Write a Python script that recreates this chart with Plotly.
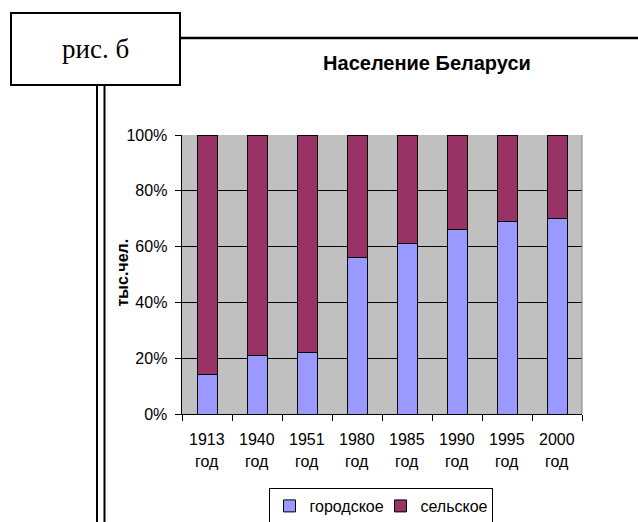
import plotly.graph_objects as go

# ---- data ----
years = ["1913", "1940", "1951", "1980", "1985", "1990", "1995", "2000"]
year_suffix = "год"
urban = [14, 21, 22, 56, 61, 66, 69, 70]
rural = [86, 79, 78, 44, 39, 34, 31, 30]
series_names = ["городское", "сельское"]
y_ticks = [0, 20, 40, 60, 80, 100]
y_tick_labels = ["0%", "20%", "40%", "60%", "80%", "100%"]
title_text = "Население Беларуси"
y_title = "тыс.чел."
fig_label = "рис. б"

# ---- layout geometry (pixels) ----
W, H = 638, 522
L, R, T, B = 182, 582, 135, 414


def px(x):
    return (x - L) / (R - L)


def py(y):
    return (B - y) / (B - T)


FONT = "Liberation Sans, Arial, sans-serif"
FS = 16

fig = go.Figure()
fig.add_trace(go.Bar(x=years, y=urban, name=series_names[0],
                     marker=dict(color="#9999FF", line=dict(color="black", width=1))))
fig.add_trace(go.Bar(x=years, y=rural, name=series_names[1],
                     marker=dict(color="#993366", line=dict(color="black", width=1))))

annotations = []
for i, yr in enumerate(years):
    annotations.append(dict(x=i, xref="x", y=py(439), yref="paper", text=yr,
                            showarrow=False, yanchor="middle", xanchor="center",
                            font=dict(family=FONT, size=FS, color="black")))
    annotations.append(dict(x=i, xref="x", y=py(461.5), yref="paper", text=year_suffix,
                            showarrow=False, yanchor="middle", xanchor="center",
                            font=dict(family=FONT, size=FS, color="black")))

annotations.append(dict(x=px(121.5), y=py(273), xref="paper", yref="paper", text="<b>%s</b>" % y_title,
                        textangle=-90, showarrow=False, xanchor="center", yanchor="middle",
                        font=dict(family=FONT, size=16, color="black")))
annotations.append(dict(x=px(95.5), y=py(49), xref="paper", yref="paper", text=fig_label,
                        showarrow=False, xanchor="center", yanchor="middle",
                        font=dict(family="Liberation Serif, Times New Roman, serif", size=27, color="black")))

shapes = [
    dict(type="rect", xref="paper", yref="paper", x0=px(11), x1=px(180), y0=py(85), y1=py(13),
         line=dict(color="black", width=2), fillcolor="white", layer="above"),
    dict(type="line", xref="paper", yref="paper", x0=px(180), x1=px(640), y0=py(38), y1=py(38),
         line=dict(color="black", width=2.5)),
    dict(type="line", xref="paper", yref="paper", x0=px(97), x1=px(97), y0=py(85), y1=py(524),
         line=dict(color="black", width=2)),
    dict(type="line", xref="paper", yref="paper", x0=px(104.5), x1=px(104.5), y0=py(85), y1=py(524),
         line=dict(color="black", width=2)),
    dict(type="line", xref="paper", yref="paper", x0=1, x1=1, y0=0, y1=1,
         line=dict(color="#808080", width=1)),
]

fig.update_layout(
    width=W, height=H,
    autosize=False,
    margin=dict(l=L, r=W - R, t=T, b=H - B, autoexpand=False),
    paper_bgcolor="white",
    plot_bgcolor="#C0C0C0",
    barmode="stack",
    bargap=0.6,
    font=dict(family=FONT, size=FS, color="black"),
    title=dict(text="<b>%s</b>" % title_text, x=427 / W, xref="container", xanchor="center",
               y=1 - 63 / H, yref="container", yanchor="middle",
               font=dict(family=FONT, size=20, color="black")),
    xaxis=dict(type="category", categoryorder="array", categoryarray=years,
               showticklabels=False, tickson="boundaries", ticks="outside",
               ticklen=6, tickcolor="black", tickwidth=1, showline=True, linecolor="black",
               linewidth=1, showgrid=False, zeroline=False),
    yaxis=dict(range=[0, 100], tickmode="array", tickvals=y_ticks,
               ticktext=[t + "\u00a0" for t in y_tick_labels],
               ticks="outside", ticklen=6,
               tickcolor="black", tickwidth=1, showline=True, linecolor="black", linewidth=1,
               showgrid=True, gridcolor="black", gridwidth=1, zeroline=False,
               tickfont=dict(family=FONT, size=FS, color="black")),
    legend=dict(orientation="h", x=px(380.5), xanchor="center", y=py(488), yanchor="top",
                bgcolor="white", bordercolor="black", borderwidth=1, traceorder="normal",
                entrywidth=66, entrywidthmode="pixels",
                font=dict(family=FONT, size=FS, color="black")),
    showlegend=True,
    annotations=annotations,
    shapes=shapes,
)

fig.write_html("out.html", config={"displayModeBar": False},
               post_script="document.body.style.margin='0px';")
